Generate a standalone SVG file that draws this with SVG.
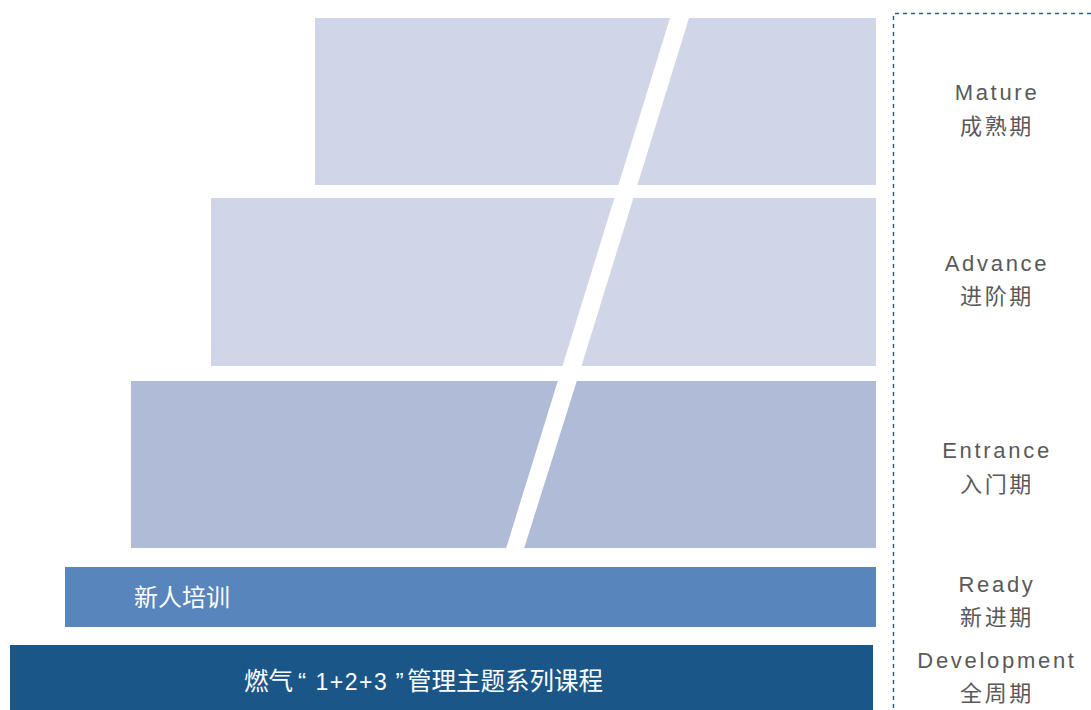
<svg xmlns="http://www.w3.org/2000/svg" width="1091" height="710" viewBox="0 0 1091 710">
<style>
.light{fill:#D0D5E8}
.mid{fill:#AFBBD7}
.lbl{font-family:"Liberation Sans","Noto Sans CJK SC",sans-serif;font-size:22px;fill:#595959;text-anchor:middle;letter-spacing:2.7px}
.cn{font-family:"Liberation Sans","Noto Sans CJK SC",sans-serif;fill:#ffffff}
</style>
<rect width="1091" height="710" fill="#ffffff"/>
<g id="mature">
<polygon class="light" points="315,18 670,18 618.4,185 315,185"/>
<polygon class="light" points="689,18 876,18 876,185 637.4,185"/>
</g>
<g id="advance">
<polygon class="light" points="211,198 614.4,198 562.5,366 211,366"/>
<polygon class="light" points="633.4,198 876,198 876,366 581.5,366"/>
</g>
<g id="entrance">
<polygon class="mid" points="131,381 557.8,381 506.2,548 131,548"/>
<polygon class="mid" points="576.8,381 876,381 876,548 524.2,548"/>
</g>
<g id="ready">
<rect x="65" y="567" width="811" height="60" fill="#5885BB"/>
<text class="cn" x="134" y="606" font-size="24">新人培训</text>
</g>
<g id="development">
<rect x="10" y="645" width="863" height="65" fill="#1A5788"/>
<text class="cn" y="690" font-size="24.5"><tspan x="244">燃气</tspan><tspan x="298">“</tspan><tspan x="315.5" font-size="23" letter-spacing="1.5">1+2+3</tspan><tspan x="395.5">”</tspan><tspan x="407">管理主题系列课程</tspan></text>
</g>
<g id="connectors">
<polyline points="1091,13.5 893.5,13.5 893.5,710" fill="none" stroke="#2E5E86" stroke-width="1.5" stroke-dasharray="4,4"/>
</g>
<g id="labels">
<text class="lbl" x="997" y="100">Mature</text>
<text class="lbl" x="997" y="134">成熟期</text>
<text class="lbl" x="997" y="271">Advance</text>
<text class="lbl" x="997" y="304">进阶期</text>
<text class="lbl" x="997" y="458">Entrance</text>
<text class="lbl" x="997" y="492">入门期</text>
<text class="lbl" x="997" y="592">Ready</text>
<text class="lbl" x="997" y="625">新进期</text>
<text class="lbl" x="997" y="668">Development</text>
<text class="lbl" x="997" y="701">全周期</text>
</g>
</svg>
